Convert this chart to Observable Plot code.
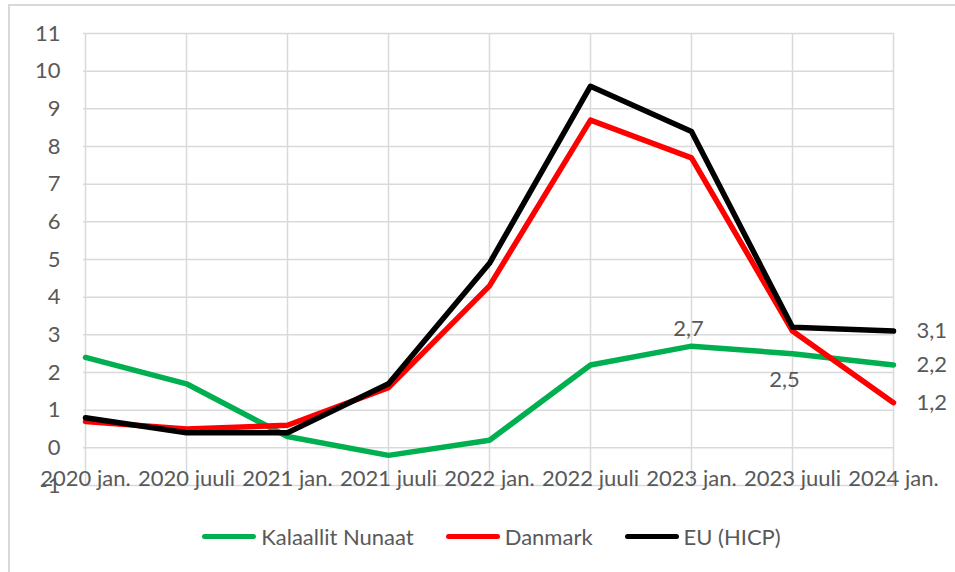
<!DOCTYPE html>
<html>
<head>
<meta charset="utf-8">
<script src="https://cdn.jsdelivr.net/npm/d3@7"></script>
<script src="https://cdn.jsdelivr.net/npm/@observablehq/plot@0.6"></script>
<style>
  html, body { margin: 0; padding: 0; background: #fff; }
  body { width: 955px; height: 572px; overflow: hidden; position: relative; font-family: Lato, "Open Sans", sans-serif; }
  #frame { position: absolute; left: 8px; top: 4px; width: 960px; height: 600px; border-left: 2px solid #d9d9d9; border-top: 2px solid #d9d9d9; }
  #chart { position: absolute; left: 0; top: 0; }
  #legend { position: absolute; left: 0; width: 983px; top: 522px; height: 28px; display: flex; justify-content: center; align-items: center; font-size: 22px; color: #595959; }
  .item { display: flex; align-items: center; margin: 0 16px; }
  .sw { width: 54px; height: 5px; border-radius: 3px; margin-right: 5px; }
</style>
</head>
<body>
<div id="frame"></div>
<div id="chart"></div>
<div id="legend"></div>
<script>
const dates = ["2020 jan.", "2020 juuli", "2021 jan.", "2021 juuli", "2022 jan.", "2022 juuli", "2023 jan.", "2023 juuli", "2024 jan."];
const kalaallit = [2.4, 1.7, 0.3, -0.2, 0.2, 2.2, 2.7, 2.5, 2.2];
const danmark = [0.7, 0.5, 0.6, 1.6, 4.3, 8.7, 7.7, 3.1, 1.2];
const eu = [0.8, 0.4, 0.4, 1.7, 4.9, 9.6, 8.4, 3.2, 3.1];
const seriesNames = ["Kalaallit Nunaat", "Danmark", "EU (HICP)"];
const seriesColors = ["#00B050", "#FF0000", "#000000"];
const yTicks = [-1, 0, 1, 2, 3, 4, 5, 6, 7, 8, 9, 10, 11];
// data labels shown: [series, index, placement]
const labelSpecs = [
  ["Kalaallit Nunaat", 6, "above"],
  ["Kalaallit Nunaat", 7, "below"],
  ["EU (HICP)", 8, "right"],
  ["Kalaallit Nunaat", 8, "right"],
  ["Danmark", 8, "right"]
];

const seriesValues = [kalaallit, danmark, eu];
const data = seriesNames.flatMap((name, s) => seriesValues[s].map((v, i) => ({series: name, date: dates[i], value: v})));
const labels = labelSpecs.map(([name, i, pos]) => {
  const v = seriesValues[seriesNames.indexOf(name)][i];
  return {date: dates[i], value: v, pos, text: String(v).replace(".", ",")};
});

const FS = 22;
const chart = Plot.plot({
  width: 955,
  height: 500,
  marginLeft: 83,
  marginRight: 61,
  marginTop: 33,
  marginBottom: 15,
  x: {type: "point", domain: dates, padding: 0, axis: null},
  y: {domain: [-1, 11], axis: null},
  color: {domain: seriesNames, range: seriesColors},
  style: {fontFamily: "Lato, 'Open Sans', sans-serif", fontSize: FS + "px", color: "#595959", background: "transparent"},
  marks: [
    Plot.gridY(yTicks, {stroke: "#d9d9d9", strokeOpacity: 1, strokeWidth: 1.5}),
    Plot.gridX(dates, {stroke: "#d9d9d9", strokeOpacity: 1, strokeWidth: 1.5}),
    Plot.axisY(yTicks, {tickSize: 0, tickPadding: 23, fontSize: FS, fill: "#595959", label: null, tickFormat: d => d}),
    Plot.text(dates, {x: d => d, y: () => 0, dy: 31, fill: "#595959", fontSize: FS}),
    Plot.line(data, {x: "date", y: "value", z: "series", stroke: "series", strokeWidth: 5.5, strokeLinejoin: "round", strokeLinecap: "round"}),
    Plot.text(labels.filter(d => d.pos === "above"), {x: "date", y: "value", text: "text", dy: -17, dx: -3, fill: "#595959", fontSize: FS}),
    Plot.text(labels.filter(d => d.pos === "below"), {x: "date", y: "value", text: "text", dy: 26, dx: -8, fill: "#595959", fontSize: FS}),
    Plot.text(labels.filter(d => d.pos === "right"), {x: "date", y: "value", text: "text", dx: 23, textAnchor: "start", fill: "#595959", fontSize: FS})
  ]
});
document.getElementById("chart").appendChild(chart);

const legend = document.getElementById("legend");
seriesNames.forEach((name, i) => {
  const item = document.createElement("div");
  item.className = "item";
  const sw = document.createElement("div");
  sw.className = "sw";
  sw.style.background = seriesColors[i];
  const t = document.createElement("span");
  t.textContent = name;
  item.appendChild(sw);
  item.appendChild(t);
  legend.appendChild(item);
});
</script>
</body>
</html>
